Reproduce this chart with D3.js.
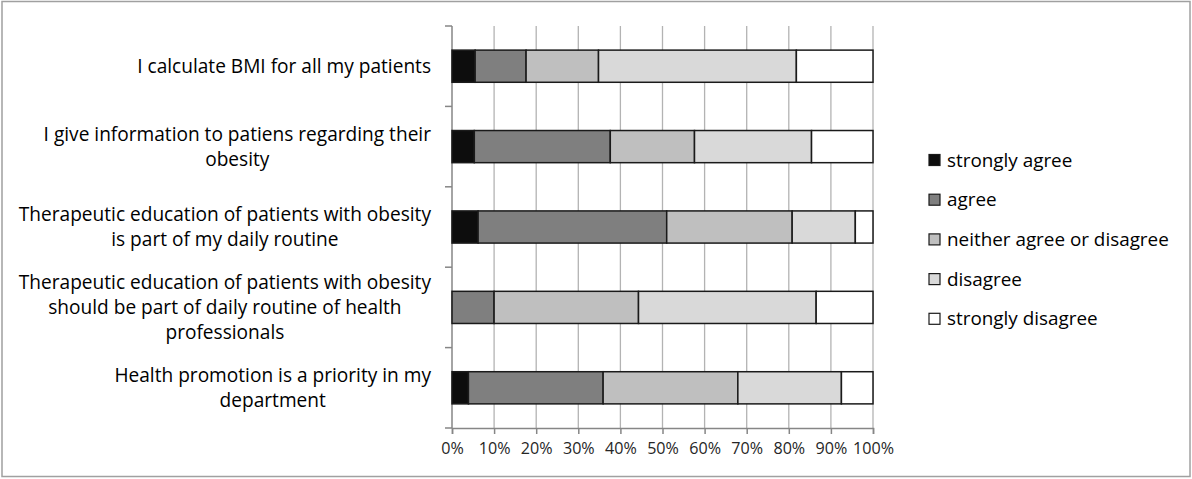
<!DOCTYPE html>
<html>
<head>
<meta charset="utf-8">
<script src="https://cdn.jsdelivr.net/npm/d3@7"></script>
<style>
  body { margin: 0; background: #fff; }
  svg { display: block; }
  text { font-family: "Open Sans", sans-serif; }
</style>
</head>
<body>
<div id="chart"></div>
<script>
// data
var categories = [
    "I calculate BMI for all my patients",
    "I give information to patiens regarding their obesity",
    "Therapeutic education of patients with obesity is part of my daily routine",
    "Therapeutic education of patients with obesity should be part of daily routine of health professionals",
    "Health promotion is a priority in my department"
];
// label lines as they wrap in the picture
var labelLines = [
    ["I calculate BMI for all my patients"],
    ["I give information to patiens regarding their", "obesity"],
    ["Therapeutic education of patients with obesity", "is part of my daily routine"],
    ["Therapeutic education of patients with obesity", "should be part of daily routine of health", "professionals"],
    ["Health promotion is a priority in my", "department"]
];
var seriesNames = ["strongly agree", "agree", "neither agree or disagree", "disagree", "strongly disagree"];
var stronglyAgree    = [5.5, 5.3, 6.2, 0, 3.9];
var agree            = [12.1, 32.3, 44.8, 10, 32];
var neither          = [17.2, 20, 29.8, 34.3, 32];
var disagree         = [47, 27.8, 15, 42.2, 24.6];
var stronglyDisagree = [18.2, 14.6, 4.2, 13.5, 7.5];
var tickValues = [0, 10, 20, 30, 40, 50, 60, 70, 80, 90, 100];

var colors = ["#0d0d0d", "#7f7f7f", "#bfbfbf", "#d9d9d9", "#ffffff"];

var width = 1192, height = 479;
var margin = {top: 26, left: 452, right: 319, bottom: 51};

var rows = categories.map(function(c, i) {
    return {
        cat: c,
        "strongly agree": stronglyAgree[i],
        "agree": agree[i],
        "neither agree or disagree": neither[i],
        "disagree": disagree[i],
        "strongly disagree": stronglyDisagree[i]
    };
});

var svg = d3.select("#chart").append("svg")
    .attr("width", width)
    .attr("height", height);

// outer frame
svg.append("rect")
    .attr("x", 2).attr("y", 1.5)
    .attr("width", width - 4).attr("height", height - 4)
    .attr("fill", "#fff")
    .attr("stroke", "#a0a0a0")
    .attr("stroke-width", 1.5);

// font size that makes a sample string this wide (the picture used Calibri)
function fitSize(sample, target) {
    var t = svg.append("text").style("font-size", "20px").text(sample);
    var w = t.node().getComputedTextLength();
    t.remove();
    return 20 * target / w;
}
var labelSize = fitSize("I calculate BMI for all my patients", 294);
var legendSize = fitSize("neither agree or disagree", 222);
var tickSize = fitSize("100%", 41);

var x = d3.scaleLinear()
    .domain([0, 100])
    .range([margin.left, width - margin.right]);

var y = d3.scaleBand()
    .domain(categories)
    .range([margin.top, height - margin.bottom])
    .paddingInner(0.6)
    .paddingOuter(0.3);

var color = d3.scaleOrdinal().domain(seriesNames).range(colors);

// gridlines
svg.append("g")
    .selectAll("line")
    .data(tickValues.slice(1))
    .enter().append("line")
    .attr("x1", function(d) { return x(d); })
    .attr("x2", function(d) { return x(d); })
    .attr("y1", margin.top)
    .attr("y2", height - margin.bottom)
    .attr("stroke", "#b3b3b3")
    .attr("stroke-width", 1.3);

// bottom axis
var xAxis = d3.axisBottom(x)
    .tickValues(tickValues)
    .tickSize(6)
    .tickPadding(9)
    .tickFormat(function(d) { return d + "%"; });

var gx = svg.append("g")
    .attr("transform", "translate(0," + (height - margin.bottom) + ")")
    .call(xAxis);
gx.select(".domain").attr("stroke", "#868686").attr("stroke-width", 1.5);
gx.selectAll(".tick line").attr("stroke", "#868686").attr("stroke-width", 1.5);
gx.selectAll(".tick text")
    .attr("fill", "#262626")
    .style("font-size", tickSize + "px")
    .style("font-family", "'Open Sans', sans-serif");

// left axis line + ticks between categories
var gy = svg.append("g");
gy.append("line")
    .attr("x1", x(0)).attr("x2", x(0))
    .attr("y1", margin.top).attr("y2", height - margin.bottom)
    .attr("stroke", "#868686").attr("stroke-width", 1.5);
gy.selectAll(".ytick")
    .data(d3.range(categories.length + 1))
    .enter().append("line")
    .attr("class", "ytick")
    .attr("x1", x(0) - 7).attr("x2", x(0))
    .attr("y1", function(i) { return margin.top + i * y.step(); })
    .attr("y2", function(i) { return margin.top + i * y.step(); })
    .attr("stroke", "#868686").attr("stroke-width", 1.5);

// stacked bars
var stack = d3.stack().keys(seriesNames);
var layers = svg.append("g")
    .selectAll("g")
    .data(stack(rows))
    .enter().append("g")
    .attr("fill", function(d) { return color(d.key); });

layers.selectAll("rect")
    .data(function(d) { return d.filter(function(s) { return s[1] - s[0] > 0; }); })
    .enter().append("rect")
    .attr("x", function(d) { return x(d[0]); })
    .attr("width", function(d) { return x(d[1]) - x(d[0]); })
    .attr("y", function(d) { return y(d.data.cat); })
    .attr("height", y.bandwidth())
    .attr("stroke", "#1a1a1a")
    .attr("stroke-width", 1.5);

// category labels: block right aligned, lines centred
var lineH = 25;
var labels = svg.append("g")
    .selectAll("g")
    .data(categories)
    .enter().append("g");

labels.each(function(c, i) {
    var g = d3.select(this);
    var lines = labelLines[i];
    var cy = y(c) + y.bandwidth() / 2;
    var t = g.append("text")
        .attr("text-anchor", "middle")
        .attr("fill", "#000")
        .style("font-size", labelSize + "px");
    lines.forEach(function(l, j) {
        t.append("tspan")
            .attr("y", cy + (j - (lines.length - 1) / 2) * lineH)
            .attr("dy", "0.35em")
            .text(l);
    });
    var w = 0;
    t.selectAll("tspan").each(function() { w = Math.max(w, this.getComputedTextLength()); });
    t.selectAll("tspan").attr("x", 431 - w / 2);
});

// legend
var legend = svg.append("g")
    .selectAll("g")
    .data(seriesNames)
    .enter().append("g")
    .attr("transform", function(d, i) { return "translate(929," + (160 + i * 39.7) + ")"; });

legend.append("rect")
    .attr("x", 0).attr("y", -5.5)
    .attr("width", 11).attr("height", 11)
    .attr("fill", function(d) { return color(d); })
    .attr("stroke", "#1a1a1a")
    .attr("stroke-width", 1.2);

legend.append("text")
    .attr("x", 18)
    .attr("dy", "0.35em")
    .attr("fill", "#000")
    .style("font-size", legendSize + "px")
    .text(function(d) { return d; });
</script>
</body>
</html>
